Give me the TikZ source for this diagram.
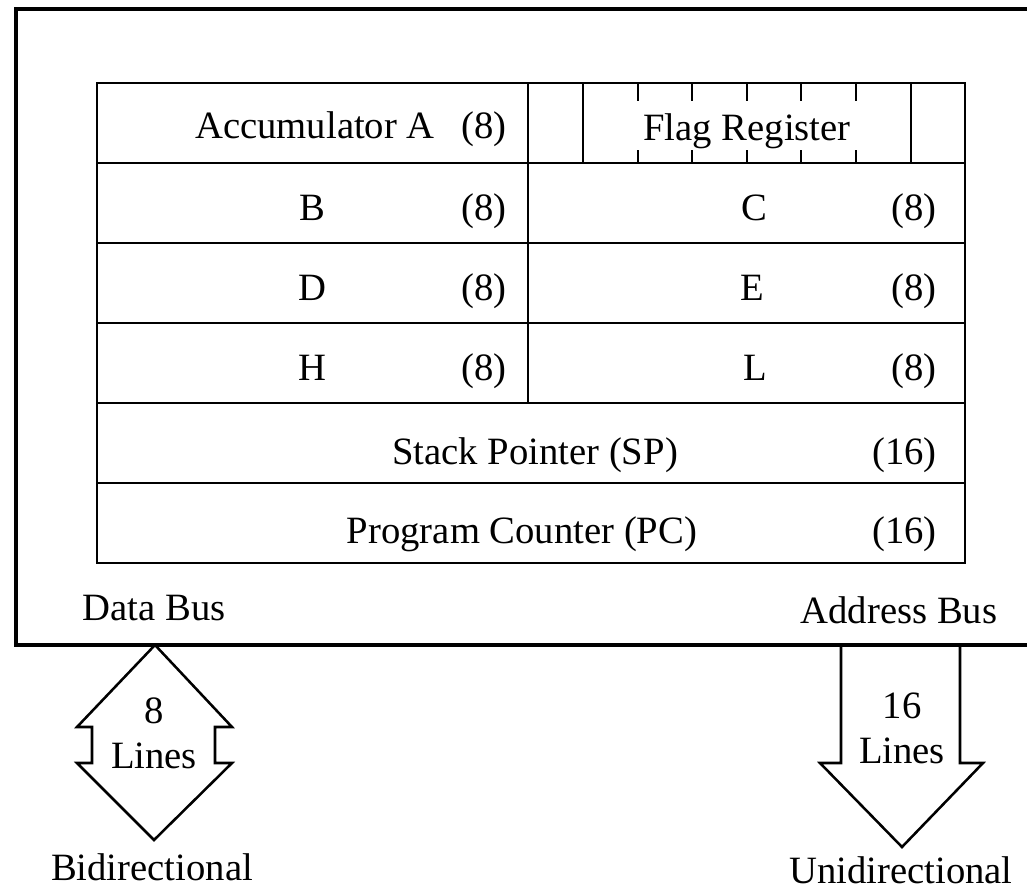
\documentclass[tikz,border=0pt]{standalone}
\usepackage{fontspec}
\setmainfont{Liberation Serif}
\usetikzlibrary{positioning}

\begin{document}
\begin{tikzpicture}[x=0.025cm, y=-0.025cm]
        % one unit = one pixel of the original figure
        \tikzstyle{reg}=[draw, line width=1.4pt, minimum height=2cm, inner sep=0pt]
        \tikzstyle{lbl}=[anchor=base, inner sep=0pt, font=\fontsize{27.5}{32}\selectfont]
        \tikzstyle{bus}=[line width=1.8pt, line join=miter]

        \useasboundingbox (0,0) rectangle (1027,892);

        % the CPU outline, running off the right edge
        \draw[line width=3.2pt] (1027,9) -- (16,9) -- (16,645) -- (1027,645);

        % register cells
        \node[reg, minimum width=10.775cm] (accA) at (312.5,123) {};
        \node[reg, minimum width=10.925cm] (flag) at (746.5,123) {};
        \node[reg, minimum width=10.775cm] (regB) at (312.5,203) {};
        \node[reg, minimum width=10.925cm] (regC) at (746.5,203) {};
        \node[reg, minimum width=10.775cm] (regD) at (312.5,283) {};
        \node[reg, minimum width=10.925cm] (regE) at (746.5,283) {};
        \node[reg, minimum width=10.775cm] (regH) at (312.5,363) {};
        \node[reg, minimum width=10.925cm] (regL) at (746.5,363) {};
        \node[reg, minimum width=21.7cm] (sp) at (531,443) {};
        \node[reg, minimum width=21.7cm] (pc) at (531,523) {};

        % flag bits
        \draw[line width=1.4pt] (583,83) -- (583,163);
        \draw[line width=1.4pt] (911,83) -- (911,163);
        \foreach \x in {638,692,747,801,856} {
            \draw[line width=1.2pt] (\x,83) -- (\x,101);
            \draw[line width=1.2pt] (\x,163) -- (\x,150);
        }

        \node[lbl] (tA) at (315,139) {Accumulator A};
        \node[lbl, anchor=base east] (wA) at (507,139) {(8)};
        \node[lbl] (tF) at (747,141) {Flag Register};
        \node[lbl] (tB) at (312,221) {B};
        \node[lbl, anchor=base east] (wB) at (507,221) {(8)};
        \node[lbl] (tC) at (754,221) {C};
        \node[lbl, anchor=base east] (wC) at (937,221) {(8)};
        \node[lbl] (tD) at (312,301) {D};
        \node[lbl, anchor=base east] (wD) at (507,301) {(8)};
        \node[lbl] (tE) at (752,301) {E};
        \node[lbl, anchor=base east] (wE) at (937,301) {(8)};
        \node[lbl] (tH) at (312,381) {H};
        \node[lbl, anchor=base east] (wH) at (507,381) {(8)};
        \node[lbl] (tL) at (755,381) {L};
        \node[lbl, anchor=base east] (wL) at (937,381) {(8)};
        \node[lbl] (tSP) at (535,464) {Stack Pointer (SP)};
        \node[lbl, anchor=base east] (wSP) at (937,464) {(16)};
        \node[lbl] (tPC) at (522,543) {Program Counter (PC)};
        \node[lbl, anchor=base east] (wPC) at (937,543) {(16)};

        \node[lbl] (dbus) at (154,620) {Data Bus};
        \node[lbl] (abus) at (899,623) {Address Bus};

        % data bus, both ways
        \draw[bus, fill=white] (155,645) -- (77,727) -- (92,727) -- (92,763) -- (77,763)
            -- (154,840) -- (232,763) -- (215,763) -- (215,727) -- (232,727) -- cycle;
        \node[lbl] (dn) at (154,723) {8};
        \node[lbl] (dl) at (154,768) {Lines};
        \node[lbl] (bidir) at (152,880) {Bidirectional};

        % address bus, one way
        \draw[bus] (841,645) -- (841,763) -- (820,763) -- (902,847) -- (983,763)
            -- (960,763) -- (960,645);
        \node[lbl] (an) at (902,718) {16};
        \node[lbl] (al) at (902,763) {Lines};
        \node[lbl] (unidir) at (901,883) {Unidirectional};
\end{tikzpicture}
\end{document}
